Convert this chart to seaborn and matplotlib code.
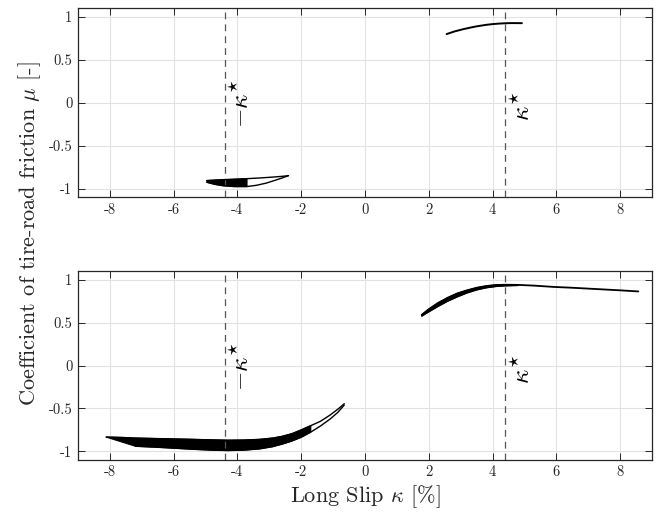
import numpy as np
import matplotlib
matplotlib.use("Agg")
import matplotlib.pyplot as plt
import seaborn as sns

# ---- measured friction curves (slip in %, friction coefficient) ----
# Test A (upper panel)
a_brake_up_x = [-4.96, -4.7, -4.45, -4.1, -3.7, -3.3, -2.9, -2.6, -2.4]
a_brake_up_y = [-0.905, -0.9, -0.895, -0.89, -0.883, -0.875, -0.865, -0.856, -0.848]
a_brake_lo_x = [-4.96, -4.7, -4.45, -4.1, -3.7, -3.4, -3.1, -2.8, -2.6, -2.4]
a_brake_lo_y = [-0.925, -0.95, -0.965, -0.975, -0.975, -0.96, -0.935, -0.9, -0.875, -0.848]
a_drive_x = [2.56, 2.8, 3.08, 3.3, 3.5, 3.81, 4.0, 4.2, 4.4, 4.6, 4.92]
a_drive_y = [0.80, 0.83, 0.857, 0.875, 0.89, 0.908, 0.916, 0.922, 0.926, 0.928, 0.927]

# Test B (lower panel)
b_brake_up_x = [-8.12, -7.6, -7.2, -6.6, -6.0, -5.4, -4.8, -4.3, -3.8, -3.3,
                -2.9, -2.6, -2.3, -2.0, -1.7, -1.4, -1.1, -0.85, -0.65]
b_brake_up_y = [-0.833, -0.838, -0.845, -0.85, -0.855, -0.86, -0.866, -0.87, -0.868, -0.86,
                -0.845, -0.825, -0.795, -0.75, -0.70, -0.65, -0.578, -0.508, -0.445]
b_brake_lo_x = [-7.2, -6.6, -6.0, -5.4, -4.8, -4.3, -3.8, -3.3, -2.9, -2.6,
                -2.3, -2.0, -1.7, -1.4, -1.1, -0.85, -0.65]
b_brake_lo_y = [-0.94, -0.95, -0.962, -0.975, -0.985, -0.99, -0.985, -0.97, -0.945, -0.915,
                -0.88, -0.835, -0.775, -0.705, -0.625, -0.545, -0.46]
b_drive_up_x = [1.78, 2.0, 2.3, 2.6, 2.9, 3.2, 3.5, 3.8, 4.1, 4.4, 4.8, 5.3,
                5.9, 6.5, 7.0, 7.5, 8.0, 8.57]
b_drive_up_y = [0.59, 0.655, 0.73, 0.79, 0.84, 0.875, 0.905, 0.925, 0.937, 0.94, 0.938, 0.93,
                0.915, 0.905, 0.895, 0.885, 0.875, 0.862]
b_drive_lo_x = [1.78, 2.0, 2.3, 2.6, 2.9, 3.2, 3.5, 3.8, 4.1, 4.4, 4.8]
b_drive_lo_y = [0.575, 0.625, 0.69, 0.75, 0.80, 0.845, 0.88, 0.905, 0.92, 0.928, 0.932]

# peak slip
kappa_star = 4.4

x_ticks = [-8, -6, -4, -2, 0, 2, 4, 6, 8]
x_tick_labels = ["-8", "-6", "-4", "-2", "0", "2", "4", "6", "8"]
y_ticks = [-1, -0.5, 0, 0.5, 1]
y_tick_labels = ["-1", "-0.5", "0", "0.5", "1"]

sns.set_style("ticks")
plt.rcParams.update({
    "font.family": "serif",
    "font.serif": ["cmr10"],
    "mathtext.fontset": "cm",
    "axes.unicode_minus": False,
    "axes.formatter.use_mathtext": False,
})

fig = plt.figure(figsize=(6.62, 5.12), dpi=100)
W, H = 662.0, 512.0
ax1 = fig.add_axes([78 / W, (H - 197.3) / H, 574 / W, 189 / H])
ax2 = fig.add_axes([78 / W, (H - 460) / H, 574 / W, 189 / H])

spine_col = "#262626"
line_kw = dict(color="black", sort=False, estimator=None, legend=False)


def branch(ax, x, y, lw=1.0):
    sns.lineplot(x=x, y=y, ax=ax, lw=lw, **line_kw)


def band(ax, xu, yu, xl, yl, n_up, n_lo):
    # dense part of the hysteresis loop, filled solid
    px = list(xu[:n_up]) + list(xl[:n_lo])[::-1]
    py = list(yu[:n_up]) + list(yl[:n_lo])[::-1]
    ax.fill(px, py, color="black", lw=0.8, edgecolor="black")


# upper panel
band(ax1, a_brake_up_x, a_brake_up_y, a_brake_lo_x, a_brake_lo_y, 5, 5)
branch(ax1, a_brake_up_x, a_brake_up_y)
branch(ax1, a_brake_lo_x, a_brake_lo_y)
branch(ax1, a_drive_x, a_drive_y, lw=1.4)

# lower panel
band(ax2, b_brake_up_x, b_brake_up_y, b_brake_lo_x, b_brake_lo_y, 15, 13)
branch(ax2, b_brake_up_x, b_brake_up_y)
branch(ax2, b_brake_lo_x, b_brake_lo_y)
band(ax2, b_drive_up_x, b_drive_up_y, b_drive_lo_x, b_drive_lo_y, 11, 11)
branch(ax2, b_drive_up_x, b_drive_up_y, lw=1.3)
branch(ax2, b_drive_lo_x, b_drive_lo_y)

for ax in (ax1, ax2):
    ax.set_xlim(-9, 9)
    ax.set_ylim(-1.1, 1.1)
    ax.set_xticks(x_ticks)
    ax.set_xticklabels(x_tick_labels)
    ax.set_yticks(y_ticks)
    ax.set_yticklabels(y_tick_labels)
    ax.grid(True, color="#e2e2e2", lw=0.8)
    ax.set_axisbelow(True)
    for s in ax.spines.values():
        s.set_visible(True)
        s.set_color(spine_col)
        s.set_linewidth(0.9)
    ax.tick_params(direction="in", length=5, width=0.7, top=True, right=True,
                   colors=spine_col, labelsize=10.5, pad=4)
    ax.set_xlabel("")
    ax.set_ylabel("")
    for k in (-kappa_star, kappa_star):
        ax.axvline(k, color="#555555", lw=0.9, ls=(0, (5.5, 4)), zorder=1)
    ax.text(-kappa_star + 0.55, -0.01, r"$-\kappa^{\star}$", rotation=90,
            ha="center", va="center", fontsize=18, color="black")
    ax.text(kappa_star + 0.55, -0.04, r"$\kappa^{\star}$", rotation=90,
            ha="center", va="center", fontsize=18, color="black")

ax2.set_xlabel(r"Long Slip $\kappa$ $[\%]$", fontsize=16, labelpad=3)
fig.text(30 / W, (H - 234) / H, r"Coefficient of tire-road friction $\mu$ [-]",
         rotation=90, ha="center", va="center", fontsize=16)

fig.savefig("out.png", dpi=100)
